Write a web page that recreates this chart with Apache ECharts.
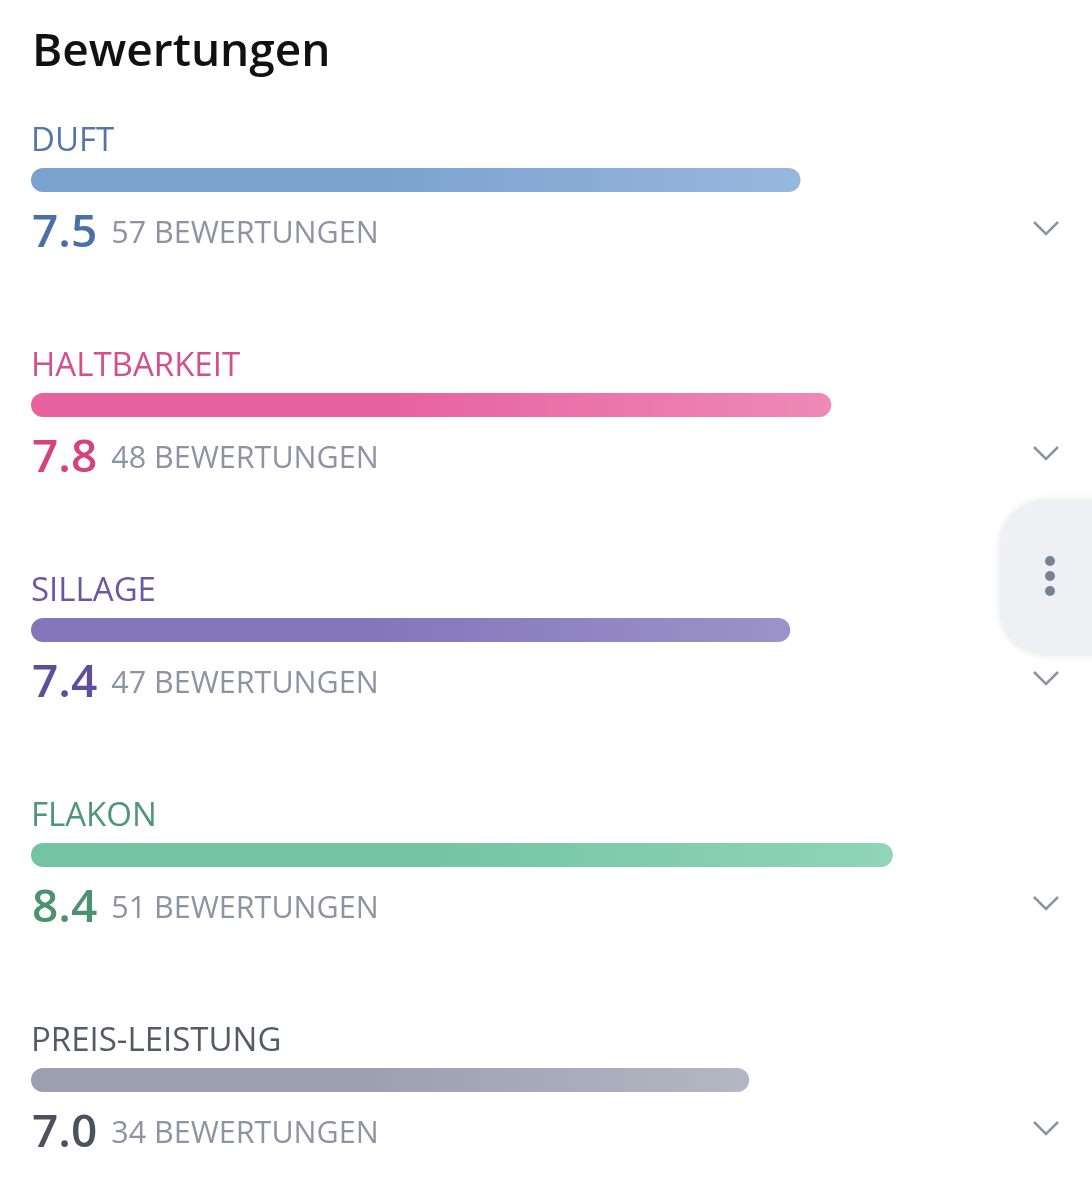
<!DOCTYPE html>
<html>
<head>
<meta charset="utf-8">
<script src="https://cdn.jsdelivr.net/npm/echarts@6/dist/echarts.min.js"></script>
<style>
  html, body { margin: 0; padding: 0; background: #fff; }
  #main { width: 1092px; height: 1200px; }
</style>
</head>
<body>
<div id="main"></div>
<script>
var chart = echarts.init(document.getElementById('main'));

// Kategorien, Bewertung (0-10) und Anzahl der Bewertungen
var categories = ['DUFT', 'HALTBARKEIT', 'SILLAGE', 'FLAKON', 'PREIS-LEISTUNG'];
var scores = [7.5, 7.8, 7.4, 8.4, 7.0];
var counts = [57, 48, 47, 51, 34];

// Farben je Kategorie: Beschriftung, Wert, Balken links / rechts
var labelColors = ['#5677a6', '#d44f8c', '#6a58a3', '#4f9675', '#555b66'];
var valueColors = ['#4b70a8', '#d4427f', '#5d4e9e', '#4a9270', '#4c525d'];
var barFrom = ['#7ba2cf', '#e8629f', '#8376bb', '#74c4a2', '#9aa0b0'];
var barTo = ['#98b7de', '#ee89b8', '#9c93c9', '#8fd5b6', '#b3b7c3'];

var option = {
  backgroundColor: '#ffffff',
  animation: false,
  textStyle: { fontFamily: 'Open Sans' },
  title: {
    text: 'Bewertungen',
    left: 27,
    top: 25,
    textStyle: { fontSize: 46, fontWeight: 600, color: '#111111', fontFamily: 'Open Sans' }
  },
  grid: { left: 31, right: 35, top: 67.5, height: 1125 },
  xAxis: { type: 'value', min: 0, max: 10, show: false },
  yAxis: {
    type: 'category',
    inverse: true,
    data: categories,
    axisLine: { show: false },
    axisTick: { show: false },
    splitLine: { show: false },
    axisLabel: {
      inside: true,
      margin: 0,
      align: 'left',
      verticalAlign: 'bottom',
      fontSize: 33,
      lineHeight: 33,
      padding: [0, 0, 22, 0],
      fontFamily: 'Open Sans',
      color: function (value, index) { return labelColors[index]; }
    }
  },
  series: [{
    type: 'bar',
    barWidth: 24,
    data: scores.map(function (v, i) {
      return {
        value: v,
        itemStyle: {
          borderRadius: 12,
          color: new echarts.graphic.LinearGradient(0, 0, 1, 0, [
            { offset: 0, color: barFrom[i] },
            { offset: 0.45, color: barFrom[i] },
            { offset: 1, color: barTo[i] }
          ])
        },
        label: {
          rich: {
            v: { fontSize: 46, lineHeight: 46, fontWeight: 600, color: valueColors[i], fontFamily: 'Open Sans' },
            c: { fontSize: 30.5, lineHeight: 30, color: '#8e93a3', fontFamily: 'Open Sans', padding: [0, 0, 0, 14] }
          }
        }
      };
    }),
    label: {
      show: true,
      position: [1, 43],
      align: 'left',
      verticalAlign: 'top',
      formatter: function (p) {
        return '{v|' + scores[p.dataIndex].toFixed(1) + '}{c|' + counts[p.dataIndex] + ' BEWERTUNGEN}';
      }
    }
  }]
};

chart.setOption(option);

// Dekoration: Pfeile rechts und seitlicher Reiter
var graphics = [];
categories.forEach(function (c, i) {
  var y = chart.convertToPixel({ yAxisIndex: 0 }, c) + 48;
  graphics.push({
    type: 'polyline',
    shape: { points: [[1034, y - 6], [1046, y + 6], [1058, y - 6]] },
    style: { stroke: '#8e93a3', lineWidth: 2.5, fill: null }
  });
});
graphics.push({
  type: 'rect',
  shape: { x: 1001, y: 500, width: 140, height: 155, r: 45 },
  style: { fill: '#eff0f4', shadowBlur: 6, shadowColor: 'rgba(0,0,0,0.10)', shadowOffsetX: -1 },
  z: 10
});
[561, 576, 591].forEach(function (y) {
  graphics.push({
    type: 'circle',
    shape: { cx: 1050, cy: y, r: 5 },
    style: { fill: '#7c8191' },
    z: 11
  });
});
chart.setOption({ graphic: graphics });
</script>
</body>
</html>
